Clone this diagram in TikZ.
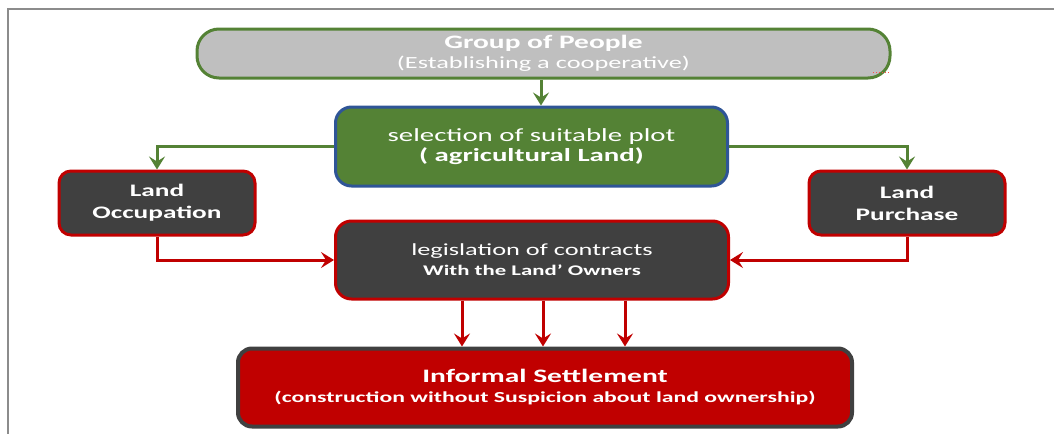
\documentclass[tikz,border=0pt]{standalone}
\usepackage{fontspec}
\setmainfont{Carlito}[FakeStretch=1.55]
\usetikzlibrary{arrows.meta}
\definecolor{grayfill}{HTML}{BFBFBF}
\definecolor{leaf}{HTML}{548235}
\definecolor{bluebd}{HTML}{2F5597}
\definecolor{darkbox}{HTML}{404040}
\definecolor{redbd}{HTML}{C00000}
\definecolor{framegray}{HTML}{8C8C8C}
\tikzset{
  box/.style={draw, line width=3pt, align=center, text=white, inner sep=0pt, minimum width=#1},
  greenbox/.style={box=392pt, fill=leaf, draw=bluebd, rounded corners=16pt, minimum height=79pt},
  darkredbox/.style={box=196pt, fill=darkbox, draw=redbd, rounded corners=12pt, minimum height=64pt},
  legbox/.style={box=393pt, fill=darkbox, draw=redbd, rounded corners=16pt, minimum height=78pt},
  topbox/.style={box=693pt, fill=grayfill, draw=leaf, rounded corners=22pt, minimum height=49pt},
  bottombox/.style={box=614pt, fill=redbd, draw=darkbox, line width=4pt, rounded corners=14pt, minimum height=78pt},
  garrow/.style={draw=leaf, line width=3pt, -{Stealth[length=13pt, width=16pt, inset=5pt]}},
  rarrow/.style={draw=redbd, line width=3pt, -{Stealth[length=13pt, width=16pt, inset=5pt]}},
}
\begin{document}
\begin{tikzpicture}[x=1pt, y=-1pt]
\useasboundingbox (0,0) rectangle (1054,434);
% frame
\coordinate (fTR) at (1054,9);
\coordinate (fTL) at (8,9);
\coordinate (fBL) at (8,434);
\draw[framegray, line width=2pt] (fTR) -- (fTL) -- (fBL);

\node[topbox, font={\fontsize{19}{20}\selectfont}] (grp) at (543.5,53.5)
  {\bfseries Group of People\\\fontsize{17}{20}\selectfont (Establishing a cooperative)};
\coordinate (sq1) at (873,72);
\coordinate (sq2) at (891,72);
\draw[red!70, line width=1pt, dotted] (sq1) -- (sq2);

\node[greenbox, font={\fontsize{18.6}{22}\selectfont}] (sel) at (531.5,146.5)
  {\raisebox{-2pt}{selection of suitable plot}\\\bfseries ( agricultural Land)};
\node[darkredbox, font={\fontsize{17.6}{22}\selectfont\bfseries}] (occ) at (157,203) {Land\\Occupation};
\node[darkredbox, font={\fontsize{17.6}{22}\selectfont\bfseries}] (pur) at (907,203) {Land\\Purchase};
\node[legbox, font={\fontsize{17}{20}\selectfont}] (leg) at (532,260)
  {legislation of contracts\\\fontsize{14.7}{20}\selectfont\bfseries With the Land’ Owners};
\node[bottombox, font={\fontsize{19}{20}\selectfont\bfseries}] (inf) at (545,387.5)
  {Informal Settlement\\\fontsize{15.3}{20}\selectfont (construction without Suspicion about land ownership)};

\draw[garrow] (grp.south -| 541,0) -- (sel.north -| 541,0);
\draw[garrow] (sel.west) -| (occ.north);
\draw[garrow] (sel.east) -| (pur.north);
\draw[rarrow] (occ.south) |- (leg.west);
\draw[rarrow] (pur.south) |- (leg.east);
\draw[rarrow] (leg.south -| 462,0) -- (inf.north -| 462,0);
\draw[rarrow] (leg.south -| 543,0) -- (inf.north -| 543,0);
\draw[rarrow] (leg.south -| 625,0) -- (inf.north -| 625,0);
\end{tikzpicture}
\end{document}
